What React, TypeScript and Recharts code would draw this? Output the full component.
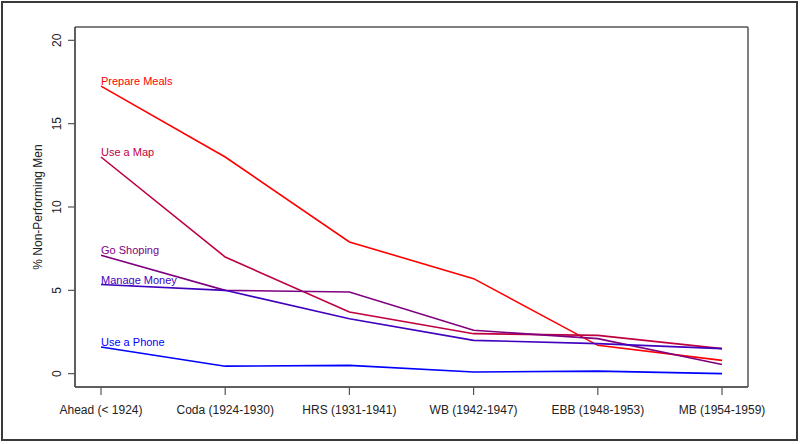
import React from 'react';
import { LineChart, Line, XAxis, YAxis, LabelList, CartesianGrid } from 'recharts';

const categories = ['Ahead (< 1924)', 'Coda (1924-1930)', 'HRS (1931-1941)', 'WB (1942-1947)', 'EBB (1948-1953)', 'MB (1954-1959)'];
const prepareMeals = [17.25, 13.0, 7.9, 5.7, 1.7, 0.8];
const useMap = [13.0, 7.0, 3.7, 2.4, 2.3, 1.5];
const goShoping = [7.1, 5.0, 4.9, 2.6, 2.1, 0.55];
const manageMoney = [5.35, 5.0, 3.3, 2.0, 1.8, 1.5];
const usePhone = [1.6, 0.45, 0.5, 0.1, 0.15, 0.0];
const yTicks = [0, 5, 10, 15, 20];

const seriesDefs = [
  { key: 'meals', name: 'Prepare Meals', values: prepareMeals, color: '#FF0000' },
  { key: 'map', name: 'Use a Map', values: useMap, color: '#BF003F' },
  { key: 'shop', name: 'Go Shoping', values: goShoping, color: '#7F007F' },
  { key: 'money', name: 'Manage Money', values: manageMoney, color: '#3F00BF' },
  { key: 'phone', name: 'Use a Phone', values: usePhone, color: '#0000FF' },
];

const data = categories.map((c, i) => {
  const row: any = { cat: c };
  seriesDefs.forEach((s) => {
    row[s.key] = s.values[i];
  });
  return row;
});

const FONT = '"Liberation Sans", Arial, sans-serif';

const makeLabel = (name: string, color: string) => (props: any) => {
  const { x, y, index } = props;
  if (index !== 0) return null;
  return (
    <text x={x} y={y - 1} fill={color} fontSize={11} fontFamily={FONT} textAnchor="start">
      {name}
    </text>
  );
};

const YTick = (props: any) => {
  const { x, y, payload } = props;
  return (
    <text
      x={x - 5}
      y={y}
      transform={`rotate(-90, ${x - 5}, ${y})`}
      textAnchor="middle"
      fontSize={12}
      fontFamily={FONT}
      fill="#222"
    >
      {payload.value}
    </text>
  );
};

const XTick = (props: any) => {
  const { x, y, payload } = props;
  return (
    <text x={x} y={y + 17} textAnchor="middle" fontSize={12} fontFamily={FONT} fill="#222">
      {payload.value}
    </text>
  );
};

const YTitle = (props: any) => {
  const vb = props.viewBox || { x: 0, y: 27, width: 75, height: 360 };
  const cx = vb.x + 42;
  const cy = vb.y + vb.height / 2;
  return (
    <text
      x={cx}
      y={cy}
      transform={`rotate(-90, ${cx}, ${cy})`}
      textAnchor="middle"
      fontSize={12}
      fontFamily={FONT}
      fill="#222"
    >
      % Non-Performing Men
    </text>
  );
};

export default function App() {
  return (
    <div style={{ position: 'absolute', left: 0, top: 0, width: 800, height: 444, background: '#fff' }}>
      <div
        style={{
          position: 'absolute',
          left: 1,
          top: 1,
          width: 797,
          height: 440,
          border: '2px solid #3a3a3a',
          boxSizing: 'border-box',
        }}
      />
      <LineChart
        width={800}
        height={444}
        data={data}
        margin={{ top: 27, right: 52, bottom: 0, left: 0 }}
        style={{ position: 'absolute', left: 0, top: 0 }}
      >
        <CartesianGrid
          stroke="#555"
          strokeWidth={1.5}
          horizontalCoordinatesGenerator={(p: any) => [p.offset.top, p.offset.top + p.offset.height]}
          verticalCoordinatesGenerator={(p: any) => [p.offset.left, p.offset.left + p.offset.width]}
        />
        <XAxis
          dataKey="cat"
          scale="point"
          padding={{ left: 26, right: 26 }}
          height={57}
          interval={0}
          tickSize={8}
          tickLine={{ stroke: '#555', strokeWidth: 1.2 }}
          axisLine={{ stroke: '#555', strokeWidth: 1.5 }}
          tick={<XTick />}
        />
        <YAxis
          type="number"
          domain={[-0.8, 20.8]}
          ticks={yTicks}
          allowDataOverflow
          width={75}
          tickSize={7}
          tickLine={{ stroke: '#555', strokeWidth: 1.2 }}
          axisLine={{ stroke: '#555', strokeWidth: 1.5 }}
          tick={<YTick />}
          label={{ content: <YTitle /> }}
        />
        {seriesDefs.map((s) => (
          <Line
            key={s.key}
            dataKey={s.key}
            name={s.name}
            stroke={s.color}
            strokeWidth={1.6}
            dot={false}
            activeDot={false}
            type="linear"
            isAnimationActive={false}
          >
            <LabelList dataKey={s.key} content={makeLabel(s.name, s.color)} />
          </Line>
        ))}
      </LineChart>
    </div>
  );
}
